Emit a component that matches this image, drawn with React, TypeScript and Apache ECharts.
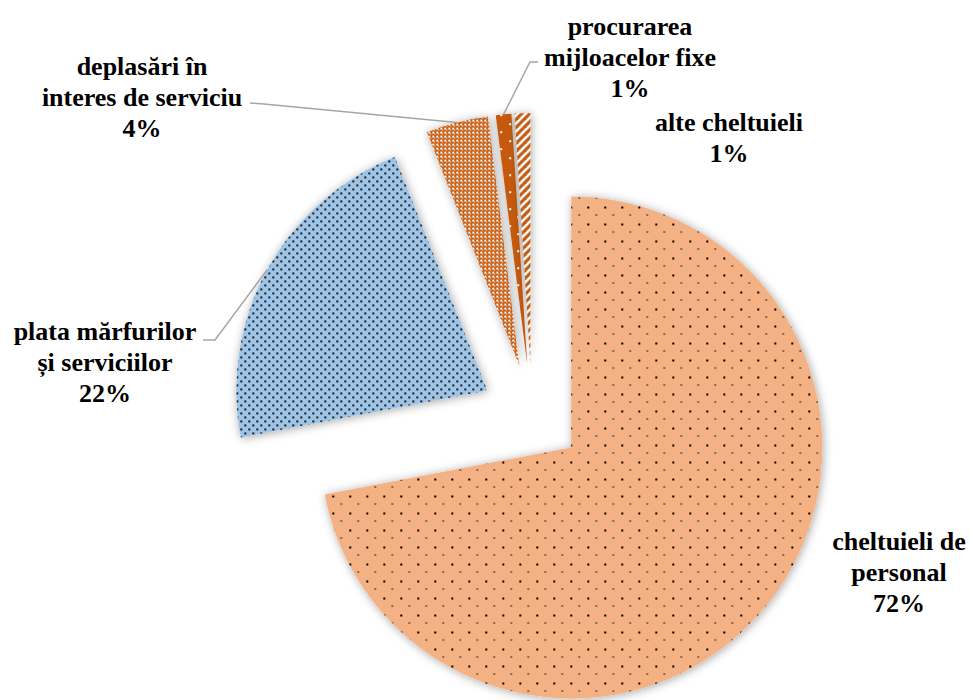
import React, { useEffect, useRef } from 'react';
import * as echarts from 'echarts';

// Budget structure: expense categories and their shares (%)
const categories = [
  'cheltuieli de\npersonal',
  'plata mărfurilor\nși serviciilor',
  'deplasări în\ninteres de serviciu',
  'procurarea\nmijloacelor fixe',
  'alte cheltuieli',
];
const shares = [72, 22, 4, 1, 1];

const DARK_ORANGE = '#C55A11';
const CENTER = [532, 415];
const RADIUS = 251;
const EXPLODE = 51;

function makeTile(w: number, h: number, draw: (ctx: CanvasRenderingContext2D) => void) {
  const c = document.createElement('canvas');
  c.width = w;
  c.height = h;
  const ctx = c.getContext('2d') as CanvasRenderingContext2D;
  draw(ctx);
  return { image: c, repeat: 'repeat', imageWidth: w, imageHeight: h } as any;
}

function buildFills() {
  // sparse dotted peach
  const personal = makeTile(17, 17, (ctx) => {
    ctx.fillStyle = '#F4B183';
    ctx.fillRect(0, 0, 17, 17);
    ctx.fillStyle = '#000';
    ctx.fillRect(4, 4, 2, 2);
    ctx.fillStyle = '#222';
    ctx.fillRect(12, 12, 2, 1);
  });
  // denser dotted blue
  const goods = makeTile(8, 8, (ctx) => {
    ctx.fillStyle = '#9DC3E6';
    ctx.fillRect(0, 0, 8, 8);
    ctx.fillStyle = '#1a1a1a';
    ctx.fillRect(1, 1, 2, 2);
    ctx.fillRect(5, 5, 2, 2);
  });
  // small white check on dark orange
  const travel = makeTile(4, 4, (ctx) => {
    ctx.fillStyle = DARK_ORANGE;
    ctx.fillRect(0, 0, 4, 4);
    ctx.fillStyle = '#fff';
    ctx.fillRect(1, 1, 2, 2);
    ctx.fillRect(3, 3, 1, 1);
  });
  // white dots on dark orange
  const assets = makeTile(17, 17, (ctx) => {
    ctx.fillStyle = DARK_ORANGE;
    ctx.fillRect(0, 0, 17, 17);
    ctx.fillStyle = '#fff';
    ctx.fillRect(4, 4, 2, 2);
    ctx.fillRect(12, 12, 2, 2);
  });
  // wide upward diagonal stripes
  const other = makeTile(8, 8, (ctx) => {
    ctx.fillStyle = '#fff';
    ctx.fillRect(0, 0, 8, 8);
    ctx.strokeStyle = DARK_ORANGE;
    ctx.lineWidth = 3.2;
    for (const off of [-8, 0, 8]) {
      ctx.beginPath();
      ctx.moveTo(off - 1, 9);
      ctx.lineTo(off + 9, -1);
      ctx.stroke();
    }
  });
  return [personal, goods, travel, assets, other];
}

// label placement and leader-line bends (chart pixels)
const labelSpots: { x: number; y: number; bend?: number[]; start?: number[] }[] = [
  { x: 899, y: 572 },
  { x: 105, y: 362, bend: [215, 340], start: [203, 340] },
  { x: 142, y: 97, bend: [264, 104], start: [250, 103] },
  { x: 630, y: 57, bend: [530, 62], start: [538, 62] },
  { x: 729, y: 138 },
];

export default function App() {
  const ref = useRef<HTMLDivElement>(null);

  useEffect(() => {
    if (!ref.current) return;
    const chart = echarts.init(ref.current, undefined, { renderer: 'svg' });
    const fills = buildFills();

    const sliceData = categories.map((name, i) => {
      const style = {
        color: fills[i],
        shadowBlur: 10,
        shadowColor: 'rgba(0,0,0,0.35)',
        shadowOffsetX: 1,
        shadowOffsetY: 1,
        borderWidth: 0,
      };
      return { name, value: shares[i], selected: true, itemStyle: style, select: { itemStyle: style } };
    });

    // same shares again, invisible, only carrying the category labels
    const labelData = categories.map((name, i) => ({
      name,
      value: shares[i],
      labelLine: { show: !!labelSpots[i].bend },
    }));

    const common = {
      type: 'pie',
      center: CENTER,
      radius: RADIUS,
      startAngle: 90,
      clockwise: true,
      avoidLabelOverlap: false,
      emphasis: { disabled: true },
    };

    chart.setOption({
      animation: false,
      backgroundColor: '#fff',
      series: [
        {
          ...common,
          selectedMode: 'multiple',
          selectedOffset: EXPLODE,
          data: sliceData,
          label: { show: false },
          labelLine: { show: false },
        },
        {
          ...common,
          silent: true,
          z: 3,
          itemStyle: { color: 'rgba(0,0,0,0)' },
          data: labelData,
          label: {
            show: true,
            position: 'outside',
            formatter: (p: any) => `${p.name}\n${Math.round(p.percent)}%`,
            fontFamily: "'Liberation Serif', 'Times New Roman', serif",
            fontWeight: 'bold',
            fontSize: 26,
            lineHeight: 31,
            color: '#000',
            align: 'center',
          },
          labelLine: {
            show: true,
            lineStyle: { color: '#A6A6A6', width: 1.5 },
          },
          labelLayout: (params: any) => {
            const s = labelSpots[params.dataIndex];
            const out: any = { x: s.x, y: s.y, align: 'center', verticalAlign: 'middle' };
            const pts = params.labelLinePoints;
            if (s.bend && pts && pts[0]) {
              // push the arc midpoint out to the exploded slice's rim
              const [px, py] = pts[0];
              const ex = px + (EXPLODE * (px - CENTER[0])) / RADIUS;
              const ey = py + (EXPLODE * (py - CENTER[1])) / RADIUS;
              out.labelLinePoints = [[ex, ey], s.bend, s.start];
            }
            return out;
          },
        },
      ],
    });

    return () => chart.dispose();
  }, []);

  return (
    <div
      ref={ref}
      style={{ position: 'absolute', left: 0, top: 0, width: 970, height: 700 }}
    />
  );
}
